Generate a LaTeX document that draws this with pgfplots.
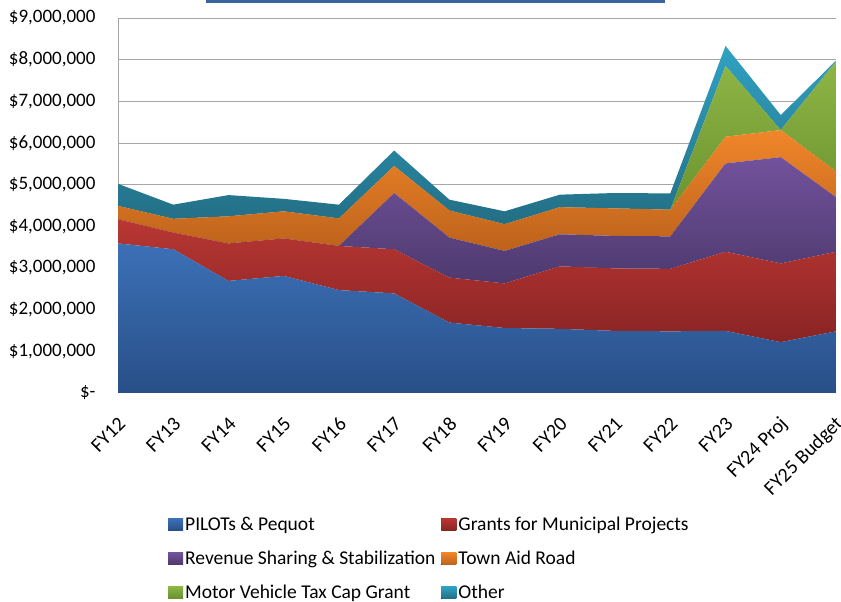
\documentclass[border=0pt]{standalone}
\usepackage{fontspec}
\setmainfont{Carlito}
\usepackage{pgfplots}
\pgfplotsset{compat=1.18}
\definecolor{bluetop}{HTML}{3C70B7}
\definecolor{bluebot}{HTML}{284F87}
\definecolor{redtop}{HTML}{B83733}
\definecolor{redbot}{HTML}{892424}
\definecolor{purtop}{HTML}{72529C}
\definecolor{purbot}{HTML}{4D396E}
\definecolor{ortop}{HTML}{F0862A}
\definecolor{orbot}{HTML}{BD621B}
\definecolor{grtop}{HTML}{8EB545}
\definecolor{grbot}{HTML}{68902D}
\definecolor{tltop}{HTML}{30A2C2}
\definecolor{tlbot}{HTML}{236E85}
\definecolor{gridc}{HTML}{A6A6A6}
\definecolor{titlebar}{HTML}{3A64A0}
\begin{document}
\begin{tikzpicture}[x=1pt,y=1pt]
\useasboundingbox (0,0) rectangle (841,602);
\fill[titlebar] (206,599) rectangle (665,602);
\begin{axis}[
  at={(118pt,209pt)}, anchor=south west,
  width=718pt, height=375pt, scale only axis,
  xmin=0, xmax=13, ymin=0, ymax=9000000,
  scaled y ticks=false,
  stack plots=y,
  axis x line*=bottom, axis y line*=left,
  axis line style={gridc, line width=1pt, -},
  ymajorgrids, grid style={gridc, line width=1pt},
  major tick length=0pt,
  ytick={0,1000000,2000000,3000000,4000000,5000000,6000000,7000000,8000000,9000000},
  yticklabels={{\$-},{\$1,000,000},{\$2,000,000},{\$3,000,000},{\$4,000,000},{\$5,000,000},{\$6,000,000},{\$7,000,000},{\$8,000,000},{\$9,000,000}},
  yticklabel style={font=\fontsize{19}{23}\selectfont, anchor=east, xshift=-19pt},
  xtick={0,1,2,3,4,5,6,7,8,9,10,11,12,13},
  xticklabels={FY12,FY13,FY14,FY15,FY16,FY17,FY18,FY19,FY20,FY21,FY22,FY23,FY24 Proj,FY25 Budget},
  xticklabel style={font=\fontsize{20}{24}\selectfont, rotate=45, anchor=east, xshift=-13.5pt, yshift=-22.6pt},
  legend image code/.code={\path (0pt,-6pt) rectangle (15pt,6pt); \fill[#1] (0pt,-6pt) rectangle (12pt,6pt);},
  legend columns=2,
  legend cell align=left,
  legend style={draw=none, fill=none, font=\fontsize{19.5}{23}\selectfont,
    at={(axis description cs:0.0696,-0.3247)}, anchor=north west,
    row sep=15pt, inner sep=0pt,
    /tikz/every even column/.append style={column sep=4pt}},
]
\addplot[draw=none, top color=bluetop, bottom color=bluebot] coordinates {
(0,3590000) (1,3450000) (2,2690000) (3,2810000) (4,2470000) (5,2390000) (6,1690000)
(7,1560000) (8,1540000) (9,1490000) (10,1480000) (11,1490000) (12,1220000) (13,1480000)} \closedcycle;
\addlegendentry{PILOTs \& Pequot}
\addplot[draw=none, top color=redtop, bottom color=redbot] coordinates {
(0,580000) (1,400000) (2,900000) (3,900000) (4,1060000) (5,1060000) (6,1080000)
(7,1070000) (8,1500000) (9,1500000) (10,1500000) (11,1900000) (12,1890000) (13,1910000)} \closedcycle;
\addlegendentry{Grants for Municipal Projects}
\addplot[draw=none, top color=purtop, bottom color=purbot] coordinates {
(0,0) (1,0) (2,0) (3,0) (4,0) (5,1350000) (6,960000)
(7,780000) (8,770000) (9,780000) (10,780000) (11,2120000) (12,2550000) (13,1310000)} \closedcycle;
\addlegendentry{Revenue Sharing \& Stabilization}
\addplot[draw=none, top color=ortop, bottom color=orbot] coordinates {
(0,320000) (1,330000) (2,650000) (3,650000) (4,660000) (5,650000) (6,650000)
(7,640000) (8,650000) (9,660000) (10,640000) (11,640000) (12,650000) (13,620000)} \closedcycle;
\addlegendentry{Town Aid Road}
\addplot[draw=none, top color=grtop, bottom color=grbot] coordinates {
(0,0) (1,0) (2,0) (3,0) (4,0) (5,0) (6,0)
(7,0) (8,0) (9,0) (10,0) (11,1700000) (12,0) (13,2640000)} \closedcycle;
\addlegendentry{Motor Vehicle Tax Cap Grant}
\addplot[draw=none, top color=tltop, bottom color=tlbot] coordinates {
(0,530000) (1,340000) (2,510000) (3,300000) (4,330000) (5,370000) (6,260000)
(7,310000) (8,300000) (9,370000) (10,390000) (11,480000) (12,360000) (13,20000)} \closedcycle;
\addlegendentry{Other}
\end{axis}
\end{tikzpicture}
\end{document}
